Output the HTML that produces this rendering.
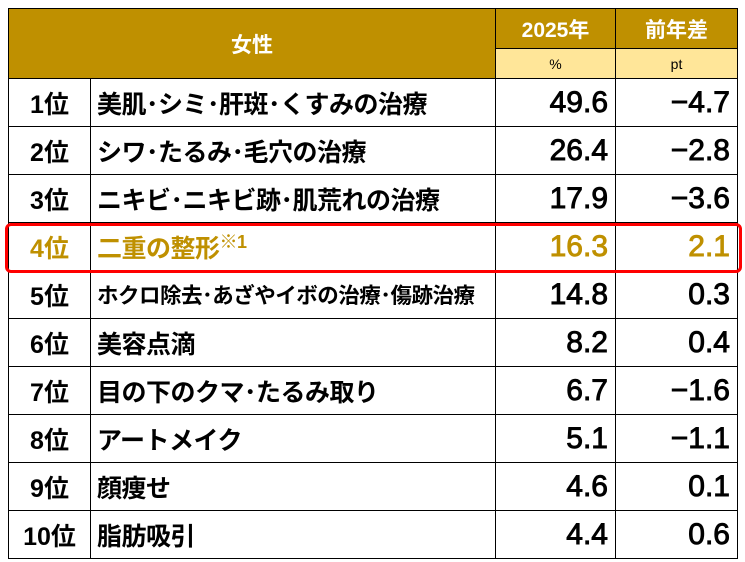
<!DOCTYPE html>
<html><head><meta charset="utf-8"><style>
body{margin:0;background:#fff;width:745px;height:562px;position:relative;overflow:hidden;font-family:"Liberation Sans","Noto Sans CJK JP",sans-serif;font-weight:bold}
table{position:absolute;left:8px;top:8px;border-collapse:collapse;width:729px;table-layout:fixed}
td{border:1px solid #000;padding:0;height:47px;font-size:25px;color:#000;white-space:nowrap;overflow:hidden}
.h1{background:#BF9000;color:#fff;text-align:center;font-size:21px;height:39px}
.h2{background:#FFE699;text-align:center;font-size:14px;font-weight:normal;height:29px}
.r{text-align:center;font-size:25px}
.n{padding-left:6px;letter-spacing:-0.5px}
.v{text-align:right;padding-right:7px;font-size:30px;font-weight:normal;-webkit-text-stroke:0.9px #000}
.hl td{color:#BF9000}
.hl .v{-webkit-text-stroke:0.9px #BF9000}
sup{font-size:18px;vertical-align:9px}
#box{position:absolute;left:5px;top:223px;width:731px;height:44px;border:3px solid #f00;border-radius:6px}
</style></head><body>
<table>
<colgroup><col style="width:82px"><col style="width:405px"><col style="width:120px"><col style="width:122px"></colgroup>
<tr><td class="h1" colspan="2" rowspan="2" style="height:69px">女性</td><td class="h1">2025年</td><td class="h1">前年差</td></tr>
<tr><td class="h2">%</td><td class="h2">pt</td></tr>
<tr><td class="r">1位</td><td class="n">美肌･シミ･肝斑･くすみの治療</td><td class="v">49.6</td><td class="v">−4.7</td></tr>
<tr><td class="r">2位</td><td class="n">シワ･たるみ･毛穴の治療</td><td class="v">26.4</td><td class="v">−2.8</td></tr>
<tr><td class="r">3位</td><td class="n">ニキビ･ニキビ跡･肌荒れの治療</td><td class="v">17.9</td><td class="v">−3.6</td></tr>
<tr class="hl"><td class="r">4位</td><td class="n">二重の整形<sup>※1</sup></td><td class="v">16.3</td><td class="v">2.1</td></tr>
<tr><td class="r">5位</td><td class="n" style="font-size:21.5px">ホクロ除去･あざやイボの治療･傷跡治療</td><td class="v">14.8</td><td class="v">0.3</td></tr>
<tr><td class="r">6位</td><td class="n">美容点滴</td><td class="v">8.2</td><td class="v">0.4</td></tr>
<tr><td class="r">7位</td><td class="n">目の下のクマ･たるみ取り</td><td class="v">6.7</td><td class="v">−1.6</td></tr>
<tr><td class="r">8位</td><td class="n">アートメイク</td><td class="v">5.1</td><td class="v">−1.1</td></tr>
<tr><td class="r">9位</td><td class="n">顔痩せ</td><td class="v">4.6</td><td class="v">0.1</td></tr>
<tr><td class="r">10位</td><td class="n">脂肪吸引</td><td class="v">4.4</td><td class="v">0.6</td></tr>
</table>
<div id="box"></div>
</body></html>
